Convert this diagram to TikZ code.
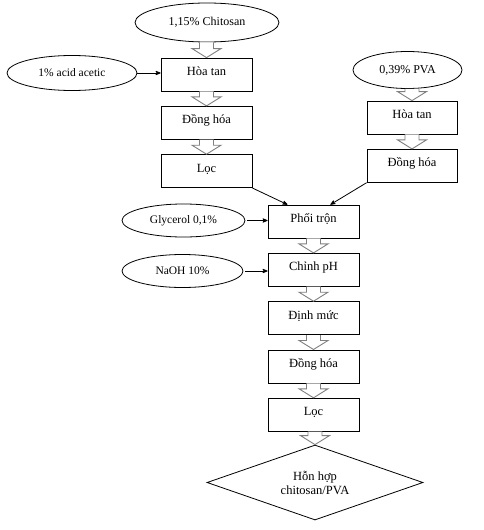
\documentclass[tikz,border=0pt]{standalone}
\usepackage{fontspec}
\setmainfont{Liberation Serif}
\usetikzlibrary{arrows,calc,shapes.geometric}

% open block arrow from one box to the next
\newcommand{\hollowarrow}[2]{%
  \draw[hollow] let \p1=(#1.south), \p2=(#2.north) in
    (\x2-7pt,\y1) -- (\x2-7pt,\y2+9pt) -- (\x2-14.5pt,\y2+9pt) -- (\x2,\y2)
    -- (\x2+14.5pt,\y2+9pt) -- (\x2+7pt,\y2+9pt) -- (\x2+7pt,\y1);}

\begin{document}
\begin{tikzpicture}[->,>=stealth',x=1pt,y=-1pt,node distance=48.3pt,
                    line width=0.8pt]
  \tikzstyle{proc}=[draw,rectangle,minimum width=91pt,minimum height=33pt,
                    text height=8pt,text depth=6pt,
                    font=\fontsize{12.5}{14}\selectfont]
  \tikzstyle{feed}=[draw,ellipse,inner sep=0pt,
                    font=\fontsize{11.5}{13}\selectfont]
  \tikzstyle{hollow}=[-,draw=gray,fill=white,line width=0.9pt]

  \useasboundingbox (0,0) rectangle (483,530);

  \node[feed,minimum width=144pt,minimum height=39pt,
        font=\fontsize{12}{14}\selectfont] (chitosan) at (207,22.5) {1,15\% Chitosan};
  \node[feed,minimum width=130pt,minimum height=35pt] (acid) at (72,73) {1\% acid acetic};
  \node[proc]            (hoatanA)                 at (206.5,74.5) {Hòa tan};
  \node[proc]            (donghoaA) [below of=hoatanA]  {Đồng hóa};
  \node[proc]            (locA)     [below of=donghoaA] {Lọc};

  \node[feed,minimum width=109pt,minimum height=37pt,
        font=\fontsize{12}{14}\selectfont] (pva) at (407.5,70) {0,39\% PVA};
  \node[proc,minimum width=90pt] (hoatanB)          at (412,117.5) {Hòa tan};
  \node[proc,minimum width=90pt] (donghoaB) [below of=hoatanB] {Đồng hóa};

  \node[proc]            (phoitron)                at (313.5,221.5) {Phối trộn};
  \node[feed,minimum width=123pt,minimum height=33pt] (glycerol) at (183.5,220.5) {Glycerol 0,1\%};
  \node[proc]            (chinhph)  [below of=phoitron] {Chỉnh pH};
  \node[feed,minimum width=121pt,minimum height=33pt] (naoh) at (182.5,271) {NaOH 10\%};
  \node[proc]            (dinhmuc)  [below of=chinhph]  {Định mức};
  \node[proc]            (donghoaC) [below of=dinhmuc]  {Đồng hóa};
  \node[proc]            (locC)     [below of=donghoaC] {Lọc};
  \node[draw,diamond,aspect=2.88,minimum width=216pt,minimum height=75pt,
        inner sep=0pt,align=center,font=\fontsize{12.5}{14}\selectfont]
        (mix) at (315,482.5) {Hỗn hợp\\chitosan/PVA};

  \draw (acid.east) -- (acid.east -| hoatanA.west);
  \draw[shorten <=2pt] (glycerol.east) -- (glycerol.east -| phoitron.west);
  \draw[shorten <=2pt] (naoh.east) -- (naoh.east -| chinhph.west);
  \draw (locA.south east) -- (phoitron.147);
  \draw (donghoaB.south west) -- (phoitron.45);

  \hollowarrow{chitosan}{hoatanA}
  \hollowarrow{hoatanA}{donghoaA}
  \hollowarrow{donghoaA}{locA}
  \hollowarrow{pva}{hoatanB}
  \hollowarrow{hoatanB}{donghoaB}
  \hollowarrow{phoitron}{chinhph}
  \hollowarrow{chinhph}{dinhmuc}
  \hollowarrow{dinhmuc}{donghoaC}
  \hollowarrow{donghoaC}{locC}
  \hollowarrow{locC}{mix}
\end{tikzpicture}
\end{document}
